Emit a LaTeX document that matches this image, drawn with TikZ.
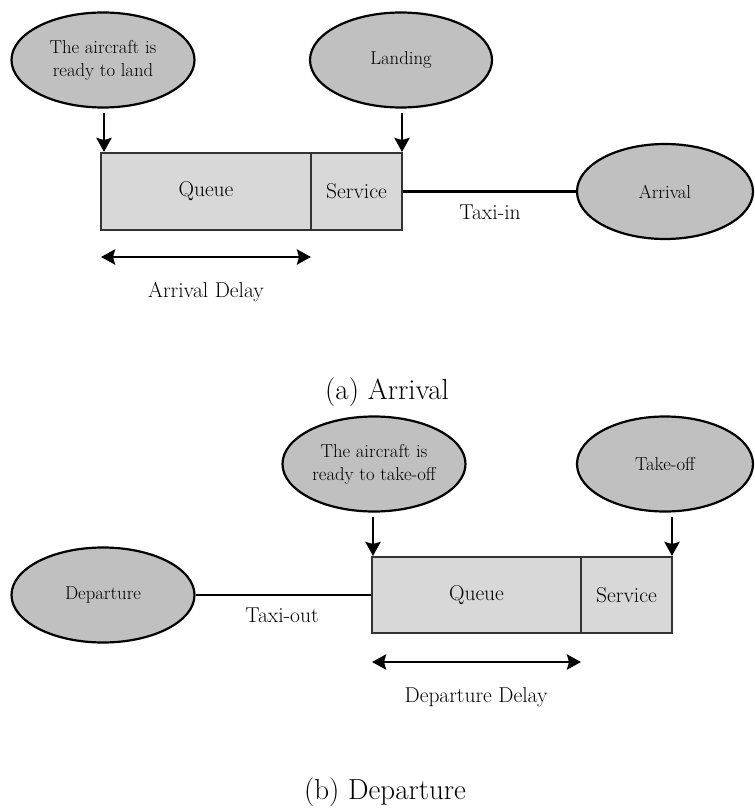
\documentclass[tikz,border=0pt]{standalone}
\usetikzlibrary{shapes.geometric,arrows.meta}
\definecolor{ellfill}{RGB}{192,192,192}
\definecolor{boxfill}{RGB}{216,216,216}
\begin{document}
\begin{tikzpicture}[x=1pt,y=-1pt,
  evt/.style={ellipse,draw=black,line width=2.2pt,fill=ellfill,inner sep=0pt,align=center,
    font=\fontsize{18.7}{23}\selectfont},
  cell/.style={rectangle,draw=black!80,line width=1.3pt,fill=boxfill,inner sep=0pt,
    font=\fontsize{21.5}{25}\selectfont},
  lbl/.style={font=\fontsize{21.5}{25}\selectfont,inner sep=0pt},
  captext/.style={font=\fontsize{29}{33}\selectfont,inner sep=0pt},
  arr/.style={line width=2.8pt,-{Stealth[length=14pt,width=15pt,inset=2pt]}},
  darr/.style={line width=2.8pt,{Stealth[length=14pt,width=15pt,inset=2pt]}-{Stealth[length=14pt,width=15pt,inset=2pt]}},
  taxi/.style={line width=2.8pt}]
\useasboundingbox (0,0) rectangle (754,810);
% ---------- (a) Arrival ----------
\node[evt,minimum width=183pt,minimum height=95pt] (rl) at (103,60) {The aircraft is\\ready to land};
\node[evt,minimum width=182pt,minimum height=95pt] (land) at (401,60) {Landing};
\node[cell,minimum width=210pt,minimum height=77pt] (q1) at (206,191.5) {Queue};
\node[cell,minimum width=91pt,minimum height=77pt] (s1) at (356.5,191.5) {Service};
\node[evt,minimum width=176pt,minimum height=95pt] (arr) at (665,191.5) {Arrival};
\coordinate (a1s) at (104,113);
\coordinate (a1e) at (104,152);
\coordinate (a2s) at (402,113);
\coordinate (a2e) at (402,152);
\draw[arr] (a1s) -- (a1e);
\draw[arr] (a2s) -- (a2e);
\draw[taxi] (s1.east) -- (arr.west);
\node[lbl] (tin) at (490,212) {Taxi-in};
\coordinate (d1l) at (101,257);
\coordinate (d1r) at (311,257);
\draw[darr] (d1l) -- (d1r);
\node[lbl] (ad) at (206,292) {Arrival Delay};
\node[captext] (capa) at (387,392) {(a) Arrival};
% ---------- (b) Departure ----------
\node[evt,minimum width=183pt,minimum height=95pt] (rt) at (374,464) {The aircraft is\\ready to take-off};
\node[evt,minimum width=176pt,minimum height=95pt] (to) at (665,464) {Take-off};
\node[evt,minimum width=183pt,minimum height=95pt] (dep) at (103,595) {Departure};
\node[cell,minimum width=209pt,minimum height=76pt] (q2) at (476.5,595) {Queue};
\node[cell,minimum width=91pt,minimum height=76pt] (s2) at (626.5,595) {Service};
\coordinate (b1s) at (373,517);
\coordinate (b1e) at (373,556);
\coordinate (b2s) at (672,517);
\coordinate (b2e) at (672,556);
\draw[arr] (b1s) -- (b1e);
\draw[arr] (b2s) -- (b2e);
\draw[taxi] (dep.east) -- (q2.west);
\node[lbl] (tout) at (282,615) {Taxi-out};
\coordinate (d2l) at (372,662);
\coordinate (d2r) at (581,662);
\draw[darr] (d2l) -- (d2r);
\node[lbl] (dd) at (476,697) {Departure Delay};
\node[captext] (capb) at (385,792) {(b) Departure};
\end{tikzpicture}
\end{document}
